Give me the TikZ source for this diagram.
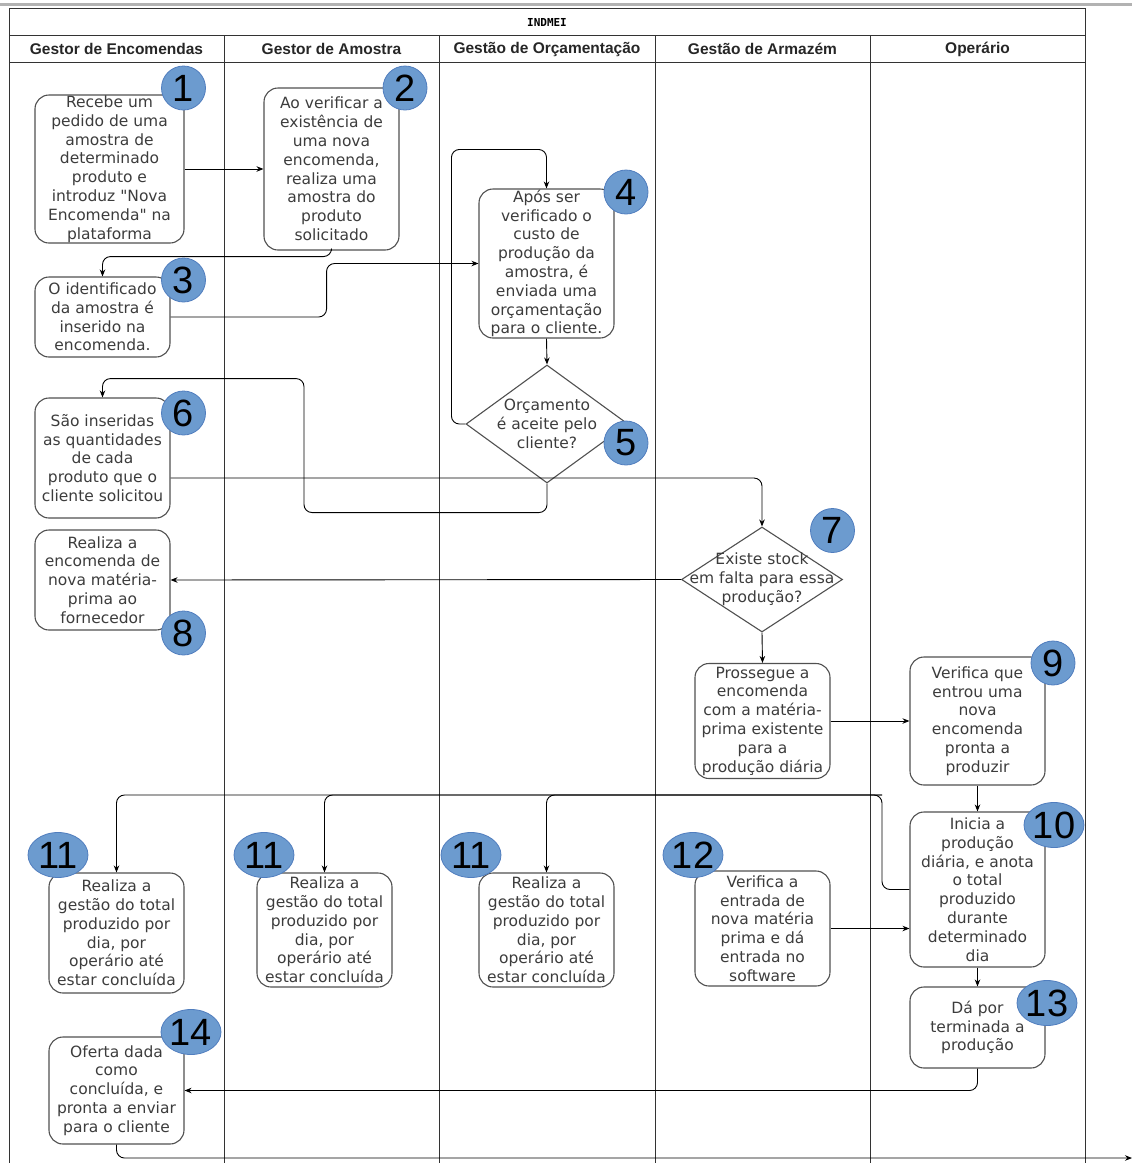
\documentclass[tikz,border=0pt]{standalone}
\usepackage{fontspec}
\setmainfont{DejaVu Sans}
\newfontfamily\headfont{Liberation Sans}
\newfontfamily\titlefont{DejaVu Sans Mono}
\usetikzlibrary{shapes.geometric,calc,arrows.meta}

\definecolor{badgefill}{RGB}{108,155,207}
\definecolor{badgeline}{RGB}{80,125,190}
\definecolor{boxline}{RGB}{80,80,80}
\definecolor{boxtext}{RGB}{60,60,60}

\tikzset{
  proc/.style={draw=boxline, line width=1.1pt, rounded corners=14pt, minimum width=135pt,
    align=center, inner sep=0pt, text=boxtext, font=\fontsize{15.5}{18.8}\selectfont},
  dec/.style={draw=boxline, line width=1.1pt, diamond, inner sep=0pt},
  dectext/.style={align=center, inner sep=0pt, text=boxtext, font=\fontsize{15.5}{18.8}\selectfont},
  badge/.style={circle, fill=badgefill, draw=badgeline, line width=0.8pt, minimum size=44pt,
    inner sep=0pt, font=\headfont\fontsize{38}{38}\selectfont},
  wbadge/.style={badge, ellipse, minimum width=60pt, minimum height=45pt},
  lanehead/.style={font=\headfont\bfseries\fontsize{15.5}{18}\selectfont, text=black!85},
  flow/.style={->, line width=0.9pt, rounded corners=8pt},
  lane/.style={line width=1pt, black!80}
}

\begin{document}
\begin{tikzpicture}[>={Stealth[length=7pt,width=5.5pt]}, x={(1pt,0pt)}, y={(0pt,-1pt)}]
    \useasboundingbox (0,0) rectangle (1132,1163);

    % pool and lanes
    \draw[gray!60, line width=3pt] (0,4) -- (1132,4);
    \draw[lane] (9,1163) -- (9,8) -- (1085,8) -- (1085,1163);
    \draw[lane] (9,35) -- (1085,35);
    \draw[lane] (9,62) -- (1085,62);
    \foreach \x in {224,439,655,870}
        \draw[lane] (\x,35) -- (\x,1163);
    \node[font=\titlefont\bfseries\fontsize{11}{12}\selectfont] (pooltitle) at (547,22) {INDMEI};
    \node[lanehead] (h1) at (116.5,49) {Gestor de Encomendas};
    \node[lanehead] (h2) at (331.5,49) {Gestor de Amostra};
    \node[lanehead] (h3) at (547,49) {Gestão de Orçamentação};
    \node[lanehead] (h4) at (762.5,49) {Gestão de Armazém};
    \node[lanehead] (h5) at (977.5,49) {Operário};

    % steps
    \node[proc, minimum width=149pt, minimum height=148pt] (n1) at (109.5,169)
        {Recebe um\\pedido de uma\\amostra de\\determinado\\produto e\\introduz \textquotedbl Nova\\Encomenda\textquotedbl{} na\\plataforma};
    \node[proc, minimum height=162pt] (n2) at (331.5,169)
        {Ao verificar a\\existência de\\uma nova\\encomenda,\\realiza uma\\amostra do\\produto\\solicitado};
    \node[proc, minimum height=80pt] (n3) at (102.5,317)
        {O identificado\\da amostra é\\inserido na\\encomenda.};
    \node[proc, minimum height=149pt] (n4) at (546.5,263.5)
        {Após ser\\verificado o\\custo de\\produção da\\amostra, é\\enviada uma\\orçamentação\\para o cliente.};
    \node[dec, minimum width=162pt, minimum height=118pt,
        label={[dectext, name=t5]center:Orçamento\\é aceite pelo\\cliente?}] (n5) at (547,424) {};
    \node[proc, minimum height=120pt] (n6) at (102.5,458)
        {São inseridas\\as quantidades\\de cada\\produto que o\\cliente solicitou};
    \node[dec, minimum width=161pt, minimum height=105pt,
        label={[dectext, name=t7]center:Existe stock\\em falta para essa\\produção?}] (n7) at (762,579.5) {};
    \node[proc, minimum height=100pt] (n8) at (102.5,580)
        {Realiza a\\encomenda de\\nova matéria-\\prima ao\\fornecedor};
    \node[proc, minimum height=115pt] (np) at (762.5,721)
        {Prossegue a\\encomenda\\com a matéria-\\prima existente\\para a\\produção diária};
    \node[proc, minimum height=128pt] (n9) at (977.5,721)
        {Verifica que\\entrou uma\\nova\\encomenda\\pronta a\\produzir};
    \node[proc, minimum height=155pt] (n10) at (977.5,889.5)
        {Inicia a\\produção\\diária, e anota\\o total\\produzido\\durante\\determinado\\dia};
    \node[proc, minimum height=120pt] (n11a) at (116.5,933)
        {Realiza a\\gestão do total\\produzido por\\dia, por\\operário até\\estar concluída};
    \node[proc, minimum height=114pt] (n11b) at (324.5,930)
        {Realiza a\\gestão do total\\produzido por\\dia, por\\operário até\\estar concluída};
    \node[proc, minimum height=114pt] (n11c) at (546.5,930)
        {Realiza a\\gestão do total\\produzido por\\dia, por\\operário até\\estar concluída};
    \node[proc, minimum height=115pt] (n12) at (762.5,928.5)
        {Verifica a\\entrada de\\nova matéria\\prima e dá\\entrada no\\software};
    \node[proc, minimum height=81pt] (n13) at (977.5,1027.5)
        {Dá por\\terminada a\\produção};
    \node[proc, minimum height=107pt] (n14) at (116.5,1090.5)
        {Oferta dada\\como\\concluída, e\\pronta a enviar\\para o cliente};

    \coordinate (bus) at (882,795);
    \coordinate (outlet) at (1132,1158);

    % connectors
    \draw[flow] (n1.east) -- (n2.west);
    \draw[flow] (n2.south) -- ++(0,6) -| (n3.north);
    \draw[flow] (n3.east) -- ++(156,0) |- (n4.west);
    \draw[flow] (n4.south) -- (n5.north);
    \draw[flow] (n5.west) -- ++(-14,0) |- ($(n4.north)+(0,-39)$) -- (n4.north);
    \draw[flow] (n5.south) -- ++(0,29) -- ++(-243,0) -- ++(0,-134) -| (n6.north);
    \draw[flow] ($(n6.east)+(0,20)$) -| (n7.north);
    \draw[flow] (n7.west) -- (n8.east);
    \draw[flow] (n7.south) -- (np.north);
    \draw[flow] (np.east) -- (n9.west);
    \draw[flow] (n9.south) -- (n10.north);
    \draw[flow] (n10.west) -| (bus) -| (n11a.north);
    \draw[flow] (bus) -| (n11b.north);
    \draw[flow] (bus) -| (n11c.north);
    \draw[flow] (n12.east) -- (n12.east -| n10.west);
    \draw[flow] (n10.south) -- (n13.north);
    \draw[flow] (n13.south) |- (n14.east);
    \draw[flow] (n14.south) |- (outlet);

    % step numbers
    \node[badge] (b1) at (183.5,88) {1};
    \node[badge] (b2) at (405,88) {2};
    \node[badge] (b3) at (183.5,280) {3};
    \node[badge] (b4) at (626,192) {4};
    \node[badge] (b5) at (626,443) {5};
    \node[badge] (b6) at (183.5,413) {6};
    \node[badge] (b7) at (832.5,530.5) {7};
    \node[badge] (b8) at (183.5,633) {8};
    \node[badge] (b9) at (1053,663) {9};
    \node[wbadge] (b10) at (1054,825) {10};
    \node[wbadge] (b11a) at (58,855) {11};
    \node[wbadge] (b11b) at (264,855) {11};
    \node[wbadge] (b11c) at (471,855) {11};
    \node[wbadge] (b12) at (693,855) {12};
    \node[wbadge] (b13) at (1047,1003) {13};
    \node[wbadge] (b14) at (191,1032) {14};
\end{tikzpicture}
\end{document}
